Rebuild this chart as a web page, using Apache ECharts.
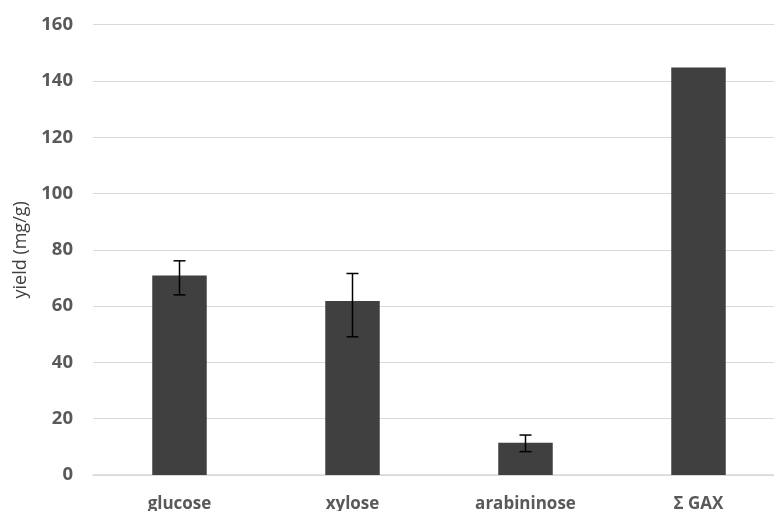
<!DOCTYPE html>
<html>
<head>
<meta charset="utf-8">
<script src="https://cdn.jsdelivr.net/npm/echarts@6/dist/echarts.min.js"></script>
<style>html,body{margin:0;padding:0;background:#fff;}#c{width:774px;height:511px;}</style>
</head>
<body>
<div id="c"></div>
<script>
const categories = ['glucose', 'xylose', 'arabininose', 'Σ GAX'];
const values = [70.9, 61.8, 11.5, 144.8];
const errLow = [64.0, 49.1, 8.3, null];
const errHigh = [76.1, 71.6, 14.2, null];
const yTicks = [0, 20, 40, 60, 80, 100, 120, 140, 160];

const errData = categories.map((c, i) => [i, errLow[i], errHigh[i]]).filter(d => d[1] != null);

const chart = echarts.init(document.getElementById('c'));
chart.setOption({
  animation: false,
  grid: { left: 93, right: -11, top: 24.7, bottom: 36, containLabel: false, outerBoundsMode: 'none' },
  xAxis: {
    type: 'category',
    data: categories,
    axisLine: { lineStyle: { color: '#d9d9d9', width: 1.5 } },
    axisTick: { show: false },
    axisLabel: { color: '#595959', fontFamily: 'Open Sans', fontWeight: 'bold', fontSize: 17, margin: 21 }
  },
  yAxis: {
    type: 'value',
    min: yTicks[0], max: yTicks[yTicks.length - 1], interval: 20,
    name: 'yield (mg/g)',
    nameLocation: 'middle',
    nameGap: 63,
    nameTextStyle: { color: '#404040', fontFamily: 'Open Sans', fontSize: 18, fontWeight: 'normal' },
    axisLine: { show: false },
    axisTick: { show: false },
    splitLine: { lineStyle: { color: '#d9d9d9', width: 1.2 } },
    axisLabel: { color: '#595959', fontFamily: 'Open Sans', fontWeight: 'bold', fontSize: 18.5, margin: 20 }
  },
  series: [
    {
      type: 'bar',
      data: values,
      barWidth: '31.5%',
      itemStyle: { color: '#404040' }
    },
    {
      type: 'custom',
      data: errData,
      z: 10,
      renderItem: function (params, api) {
        const x = api.value(0);
        const lo = api.coord([x, api.value(1)]);
        const hi = api.coord([x, api.value(2)]);
        const hw = 6;
        const style = { stroke: '#000', lineWidth: 1.5 };
        return {
          type: 'group',
          children: [
            { type: 'line', shape: { x1: lo[0], y1: lo[1], x2: hi[0], y2: hi[1] }, style: style },
            { type: 'line', shape: { x1: hi[0] - hw, y1: hi[1], x2: hi[0] + hw, y2: hi[1] }, style: style },
            { type: 'line', shape: { x1: lo[0] - hw, y1: lo[1], x2: lo[0] + hw, y2: lo[1] }, style: style }
          ]
        };
      }
    }
  ]
});
</script>
</body>
</html>
